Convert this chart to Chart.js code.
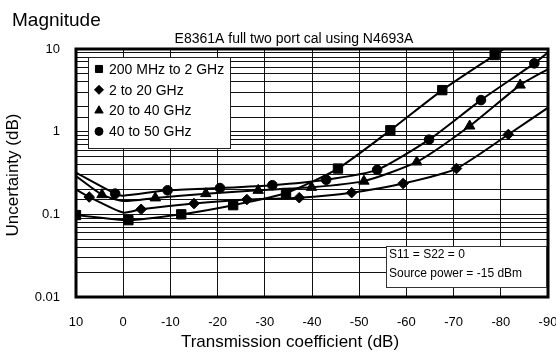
<!DOCTYPE html>
<html>
<head>
<meta charset="utf-8">
<script src="https://cdn.jsdelivr.net/npm/chart.js@4.4.1/dist/chart.umd.min.js"></script>
<style>
  html, body { margin: 0; padding: 0; background: #fff; }
  #wrap { position: relative; width: 556px; height: 352px; }
</style>
</head>
<body>
<div id="wrap"><canvas id="chart"></canvas></div>
<script>
const FONT = '"Liberation Sans", Arial, Helvetica, sans-serif';

const pageTitle = 'Magnitude';
const plotTitle = 'E8361A full two port cal using N4693A';
const xTitle = 'Transmission coefficient (dB)';
const yTitle = 'Uncertainty (dB)';
const noteLines = ['S11 = S22 = 0', 'Source power = -15 dBm'];
const xTicks = [10, 0, -10, -20, -30, -40, -50, -60, -70, -80, -90];
const yTickLabels = ['0.01', '0.1', '1', '10'];
const seriesNames = ['200 MHz to 2 GHz', '2 to 20 GHz', '20 to 40 GHz', '40 to 50 GHz'];

// marker positions (x = transmission dB, y = uncertainty dB)
const sqX = [10, -1.1, -12.3, -23.3, -34.5, -45.5, -56.6, -67.6, -78.7];
const sqY = [0.098, 0.085, 0.1, 0.129, 0.181, 0.358, 1.04, 3.18, 8.45];
const dmX = [7.2, -3.8, -15, -26.2, -37.3, -48.4, -59.3, -70.6, -81.6];
const dmY = [0.162, 0.115, 0.135, 0.151, 0.159, 0.183, 0.236, 0.358, 0.925];
const trX = [4.5, -6.8, -17.5, -28.6, -39.9, -51, -62.2, -73.4, -84.1];
const trY = [0.173, 0.158, 0.178, 0.195, 0.212, 0.252, 0.43, 1.17, 3.66];
const ciX = [1.7, -9.4, -20.5, -31.6, -43, -53.8, -64.8, -75.8, -87.1];
const ciY = [0.178, 0.195, 0.208, 0.225, 0.262, 0.345, 0.8, 2.41, 6.7];

// curve points that carry no marker (start, kink at 0 dB, end of trace)
const sqCurveX = [-84];
const sqCurveY = [13.5];
const dmCurveX = [10, 0, -90];
const dmCurveY = [0.2, 0.105, 1.95];
const trCurveX = [10, 0, -90];
const trCurveY = [0.29, 0.145, 5.7];
const ciCurveX = [10, 0, -90];
const ciCurveY = [0.32, 0.168, 9.1];

const pts = (xs, ys) => xs.map((x, i) => ({ x, y: ys[i] }));
// markers + unmarked points, ordered left to right on the reversed axis
const curve = (mx, my, cx, cy) => pts(mx, my).concat(pts(cx, cy)).sort((a, b) => b.x - a.x);

const series = [
  { marks: pts(sqX, sqY), line: curve(sqX, sqY, sqCurveX, sqCurveY), style: 'rect', r: 6.6, lr: 5 },
  { marks: pts(dmX, dmY), line: curve(dmX, dmY, dmCurveX, dmCurveY), style: 'rectRot', r: 5.3, lr: 4.5 },
  { marks: pts(trX, trY), line: curve(trX, trY, trCurveX, trCurveY), style: 'triangle', r: 6, lr: 4.8 },
  { marks: pts(ciX, ciY), line: curve(ciX, ciY, ciCurveX, ciCurveY), style: 'circle', r: 4.8, lr: 4 },
];

const datasets = [];
series.forEach((s, i) => {
  datasets.push({
    label: seriesNames[i], data: s.marks, showLine: false, order: 0,
    pointStyle: s.style, pointRadius: s.r, pointHoverRadius: s.r,
    pointBackgroundColor: '#000', pointBorderColor: '#000', pointBorderWidth: 1,
  });
  datasets.push({
    label: seriesNames[i] + ' curve', data: s.line, order: 1,
    borderColor: '#000', borderWidth: 2, tension: 0.2, pointRadius: 0, fill: false,
  });
});

function marker(ctx, style, r, x, y) {
  if (Chart.helpers && Chart.helpers.drawPoint) {
    Chart.helpers.drawPoint(ctx, { pointStyle: style, radius: r, rotation: 0, borderWidth: 1 }, x, y);
    return;
  }
  ctx.beginPath(); ctx.arc(x, y, r, 0, Math.PI * 2); ctx.fill();
}

// Frame, headings, axis titles, legend box and the measurement note,
// placed relative to the plotting area so they follow the axes.
const decorations = {
  id: 'decorations',
  beforeDraw(chart) {
    const { ctx, width, height } = chart;
    ctx.save();
    ctx.fillStyle = '#fff';
    ctx.fillRect(0, 0, width, height);
    ctx.restore();
  },
  afterDraw(chart) {
    const { ctx, chartArea: a } = chart;
    ctx.save();
    ctx.strokeStyle = '#000';
    ctx.lineWidth = 3;
    ctx.strokeRect(a.left, a.top, a.right - a.left, a.bottom - a.top);

    ctx.fillStyle = '#000';
    ctx.textAlign = 'left';
    ctx.textBaseline = 'alphabetic';
    ctx.font = '19px ' + FONT;
    ctx.fillText(pageTitle, 12, 26);
    ctx.textAlign = 'center';
    ctx.font = '14px ' + FONT;
    ctx.fillText(plotTitle, a.left + 218, 43);

    // axis titles
    ctx.font = '17px ' + FONT;
    ctx.textBaseline = 'middle';
    ctx.fillText(xTitle, a.left + 214, a.bottom + 45);
    ctx.save();
    ctx.translate(13, (a.top + a.bottom) / 2 + 2);
    ctx.rotate(-Math.PI / 2);
    ctx.fillText(yTitle, 0, 0);
    ctx.restore();

    // legend
    const lx = a.left + 12, ly = a.top + 8;
    ctx.fillStyle = '#fff';
    ctx.fillRect(lx, ly, 142, 91);
    ctx.lineWidth = 1;
    ctx.strokeStyle = '#222';
    ctx.strokeRect(lx + 0.5, ly + 0.5, 142, 91);
    ctx.textAlign = 'left';
    ctx.font = '14px ' + FONT;
    series.forEach((s, i) => {
      const y = ly + 12 + i * 20.8;
      ctx.fillStyle = '#000';
      ctx.strokeStyle = '#000';
      marker(ctx, s.style, s.lr, lx + 11, y);
      ctx.fillStyle = '#000';
      ctx.fillText(seriesNames[i], lx + 21, y + 1);
    });

    // note box
    const nx = a.right - 162, ny = a.bottom - 51;
    ctx.fillStyle = '#fff';
    ctx.fillRect(nx, ny, 160, 41);
    ctx.strokeStyle = '#333';
    ctx.strokeRect(nx + 0.5, ny + 0.5, 160, 41);
    ctx.fillStyle = '#000';
    ctx.font = '12px ' + FONT;
    noteLines.forEach((t, i) => ctx.fillText(t, nx + 3, ny + 9 + i * 19));
    ctx.restore();
  }
};

new Chart(document.getElementById('chart'), {
  type: 'line',
  data: { datasets },
  options: {
    responsive: true, maintainAspectRatio: false, animation: false,
    layout: { padding: { top: 49, right: 8, left: 0, bottom: 0 } },
    plugins: { legend: { display: false }, tooltip: { enabled: false } },
    scales: {
      x: {
        type: 'linear', reverse: true,
        min: xTicks[xTicks.length - 1], max: xTicks[0],
        afterBuildTicks: s => { s.ticks = xTicks.map(v => ({ value: v })); },
        afterFit: s => { s.height = 55; s.paddingLeft = 0; s.paddingRight = 0; },
        grid: { color: '#111', lineWidth: 1, drawTicks: false },
        border: { display: false },
        ticks: { color: '#000', font: { family: FONT, size: 13 }, padding: 18, maxRotation: 0 },
      },
      y: {
        type: 'logarithmic',
        min: Number(yTickLabels[0]), max: Number(yTickLabels[yTickLabels.length - 1]),
        afterFit: s => { s.width = 76; s.paddingTop = 0; s.paddingBottom = 0; },
        grid: { color: '#111', lineWidth: 1, drawTicks: false },
        border: { display: false },
        ticks: {
          color: '#000', font: { family: FONT, size: 13 }, padding: 16, autoSkip: false,
          callback: v => yTickLabels.find(l => Math.abs(Number(l) - v) < v * 1e-6) || '',
        },
      },
    },
  },
  plugins: [decorations],
});
</script>
</body>
</html>
